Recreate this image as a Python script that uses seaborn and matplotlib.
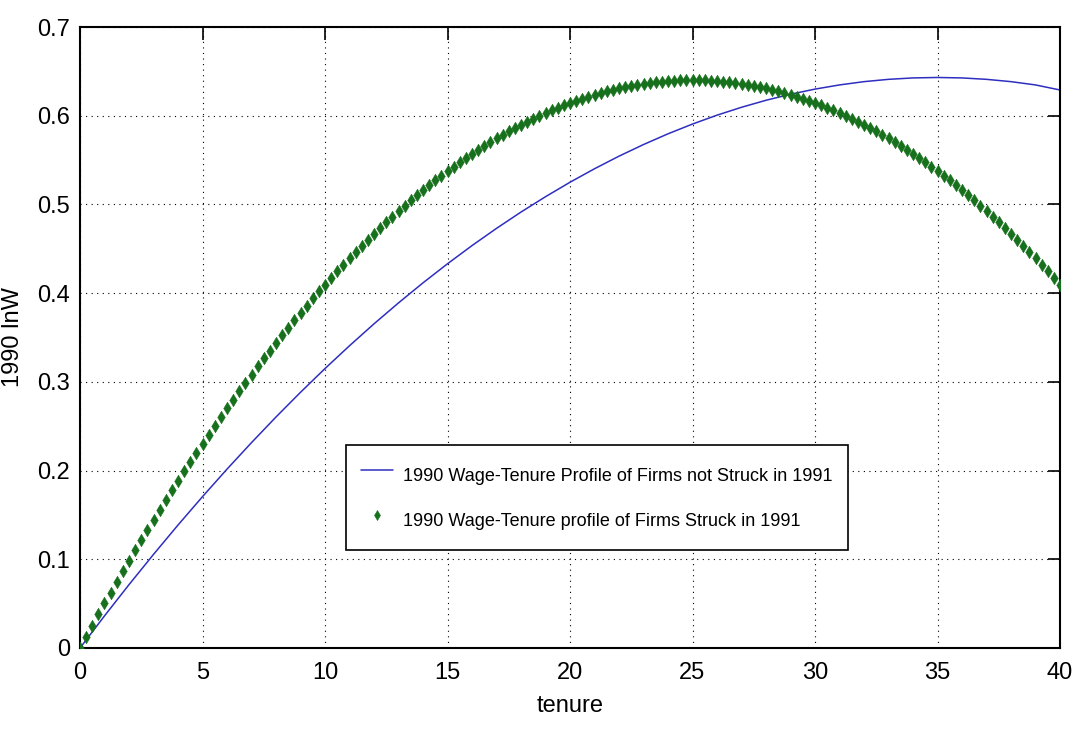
import matplotlib
matplotlib.use("Agg")
import matplotlib.pyplot as plt
import seaborn as sns
from matplotlib.ticker import MultipleLocator, FuncFormatter

# ---- data ----
tenure_blue = list(range(0, 41))
lnw_not_struck = [0.0, 0.0362, 0.0714, 0.1055, 0.1386, 0.1706, 0.2016, 0.2315, 0.2604, 0.2882,
                  0.3150, 0.3407, 0.3654, 0.3890, 0.4116, 0.4331, 0.4536, 0.4730, 0.4914, 0.5087,
                  0.5250, 0.5402, 0.5544, 0.5675, 0.5796, 0.5906, 0.6006, 0.6095, 0.6174, 0.6242,
                  0.6300, 0.6347, 0.6384, 0.6410, 0.6426, 0.6431, 0.6426, 0.6410, 0.6384, 0.6347,
                  0.6290]

tenure_green = [k * 0.25 for k in range(161)]
lnw_struck = [0.0, 0.0127, 0.0253, 0.0378, 0.0502, 0.0624, 0.0745, 0.0865, 0.0983, 0.1100,
              0.1216, 0.1331, 0.1444, 0.1556, 0.1667, 0.1776, 0.1884, 0.1991, 0.2097, 0.2201,
              0.2304, 0.2406, 0.2506, 0.2605, 0.2703, 0.2800, 0.2895, 0.2989, 0.3082, 0.3174,
              0.3264, 0.3353, 0.3441, 0.3527, 0.3612, 0.3696, 0.3779, 0.3860, 0.3940, 0.4019,
              0.4096, 0.4172, 0.4247, 0.4321, 0.4393, 0.4464, 0.4534, 0.4602, 0.4669, 0.4735,
              0.4800, 0.4863, 0.4925, 0.4986, 0.5046, 0.5104, 0.5161, 0.5217, 0.5271, 0.5324,
              0.5376, 0.5427, 0.5476, 0.5524, 0.5571, 0.5616, 0.5660, 0.5703, 0.5745, 0.5785,
              0.5824, 0.5862, 0.5898, 0.5933, 0.5967, 0.6000, 0.6031, 0.6061, 0.6090, 0.6118,
              0.6144, 0.6169, 0.6193, 0.6215, 0.6236, 0.6256, 0.6275, 0.6292, 0.6308, 0.6323,
              0.6336, 0.6348, 0.6359, 0.6369, 0.6377, 0.6384, 0.6390, 0.6394, 0.6397, 0.6399,
              0.6400,
              0.6399, 0.6397, 0.6394, 0.6390, 0.6384, 0.6377, 0.6369, 0.6359, 0.6348, 0.6336,
              0.6323, 0.6308, 0.6292, 0.6275, 0.6256, 0.6236, 0.6215, 0.6193, 0.6169, 0.6144,
              0.6118, 0.6090, 0.6061, 0.6031, 0.6000, 0.5967, 0.5933, 0.5898, 0.5862, 0.5824,
              0.5785, 0.5745, 0.5703, 0.5660, 0.5616, 0.5571, 0.5524, 0.5476, 0.5427, 0.5376,
              0.5324, 0.5271, 0.5217, 0.5161, 0.5104, 0.5046, 0.4986, 0.4925, 0.4863, 0.4800,
              0.4735, 0.4669, 0.4602, 0.4534, 0.4464, 0.4393, 0.4321, 0.4247, 0.4172, 0.4096]

label_blue = "1990 Wage-Tenure Profile of Firms not Struck in 1991"
label_green = "1990 Wage-Tenure profile of Firms Struck in 1991"
x_label = "tenure"
y_label = "1990 lnW"

# ---- style ----
sns.set_style("white")
plt.rcParams['font.family'] = ['Liberation Sans', 'DejaVu Sans']
plt.rcParams['text.color'] = 'black'
plt.rcParams['axes.labelcolor'] = 'black'
plt.rcParams['xtick.color'] = 'black'
plt.rcParams['ytick.color'] = 'black'

fig = plt.figure(figsize=(10.77, 7.51), dpi=100)
ax = fig.add_axes([80 / 1077, 1 - 648 / 751, 980 / 1077, 621 / 751])

sns.lineplot(x=tenure_blue, y=lnw_not_struck, ax=ax, color="#2e2ec0", linewidth=1.1,
             label=label_blue)
sns.scatterplot(x=tenure_green, y=lnw_struck, ax=ax, color="#16701c", marker="d", s=42,
                edgecolor="#16701c", linewidth=0.3, label=label_green, zorder=3)

ax.set_xlim(0, 40)
ax.set_ylim(0, 0.7)
ax.xaxis.set_major_locator(MultipleLocator(5))
ax.yaxis.set_major_locator(MultipleLocator(0.1))
ax.xaxis.set_major_formatter(FuncFormatter(lambda v, p: f"{v:g}"))
ax.yaxis.set_major_formatter(FuncFormatter(lambda v, p: f"{v:g}"))

ax.grid(True, color="black", linestyle=(0, (1, 4)), linewidth=0.8)
for s in ax.spines.values():
    s.set_visible(True)
    s.set_color("black")
    s.set_linewidth(1.5)
ax.tick_params(direction="in", length=9, width=1.2, top=True, right=True,
               labelsize=17, colors="black", labelcolor="black")
ax.tick_params(axis="x", pad=10)
ax.tick_params(axis="y", pad=7)

ax.set_xlabel(x_label, fontsize=17, labelpad=8, color="black")
ax.set_ylabel(y_label, fontsize=17, labelpad=10, color="black")

leg = ax.legend(loc="upper left", bbox_to_anchor=(0.271, 0.327), fontsize=13,
                frameon=True, fancybox=False, edgecolor="black", framealpha=1,
                handlelength=1.8, handletextpad=0.55, borderpad=0.85, labelspacing=0.9,
                handleheight=2.1, markerscale=0.8, borderaxespad=0, labelcolor="black")
leg.get_frame().set_linewidth(1.2)

fig.savefig("out.png", dpi=100)
